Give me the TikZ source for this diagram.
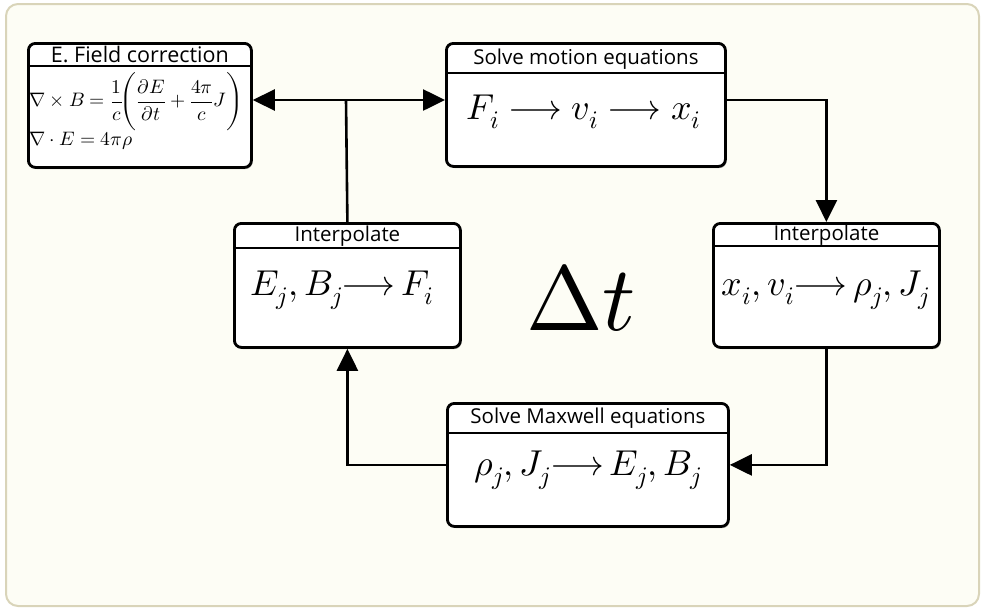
\documentclass[tikz,border=0pt]{standalone}
\usepackage{fontspec}
\usepackage{unicode-math}
\newfontfamily\titlefont{Open Sans}
\usetikzlibrary{arrows.meta,calc,shadows}
\definecolor{bgfill}{HTML}{FDFDF5}
\definecolor{bgline}{HTML}{D9D4B9}
\begin{document}
\begin{tikzpicture}[x=1pt,y=-1pt,
  panel/.style={draw=black,line width=2.8pt,rounded corners=7pt,fill=white,anchor=north west,inner sep=0pt,
    drop shadow={shadow xshift=1.2pt,shadow yshift=-1.6pt,opacity=0.35,fill=black}},
  hdr/.style={line width=1.8pt},
  ttl/.style={font=\titlefont\fontsize{20.5}{22}\selectfont,inner sep=0pt},
  big/.style={font=\fontsize{36}{40}\selectfont,inner sep=0pt},
  eq/.style={font=\fontsize{19.5}{22}\selectfont,inner sep=0pt,anchor=west},
  conn/.style={line width=2.6pt},
  tipend/.style={-{Triangle[length=22pt,width=21pt]}},
  tipboth/.style={{Triangle[length=22pt,width=21pt]}-{Triangle[length=22pt,width=21pt]}}
]
\path[use as bounding box] (0,0) rectangle (984,611);
\draw[fill=bgfill,draw=bgline,line width=2pt,rounded corners=12pt] (6,4) rectangle (979,606);

% boxes
\node[panel,minimum width=223pt,minimum height=124pt] (efc) at (27,42) {};
\node[panel,minimum width=279pt,minimum height=123pt] (mot) at (445,42) {};
\node[panel,minimum width=226pt,minimum height=124pt] (il) at (233,222) {};
\node[panel,minimum width=226pt,minimum height=124pt] (ir) at (712,222) {};
\node[panel,minimum width=281pt,minimum height=123pt] (mx) at (446,402) {};

% header lines
\draw[hdr] ($(efc.north west)+(0,24)$) -- ($(efc.north east)+(0,24)$);
\draw[hdr] ($(mot.north west)+(0,31)$) -- ($(mot.north east)+(0,31)$);
\draw[hdr] ($(il.north west)+(0,26)$) -- ($(il.north east)+(0,26)$);
\draw[hdr] ($(ir.north west)+(0,24)$) -- ($(ir.north east)+(0,24)$);
\draw[hdr] ($(mx.north west)+(0,31)$) -- ($(mx.north east)+(0,31)$);

% titles
\node[ttl,font=\titlefont\fontsize{21.5}{23}\selectfont] (efct) at ($(efc.north)+(0,12)$) {E. Field correction};
\node[ttl] (mott) at ($(mot.north)+(0,17)$) {Solve motion equations};
\node[ttl] (ilt) at ($(il.north)+(0,14)$) {Interpolate};
\node[ttl] (irt) at ($(ir.north)+(0,13)$) {Interpolate};
\node[ttl] (mxt) at ($(mx.north)+(0,16)$) {Solve Maxwell equations};

% contents
\node[eq] (eq1) at (29,102) {$\nabla\times B=\dfrac{1}{c}\!\Biggl(\dfrac{\partial E}{\partial t}+\dfrac{4\pi}{c}J\Biggr)$};
\node[eq] (eq2) at (29,141) {$\nabla\cdot E=4\pi\rho$};
\node[big] (motc) at (584,112) {$F_i\longrightarrow v_i\longrightarrow x_i$};
\node[big] (ilc) at (342,290) {$E_j,B_j{\longrightarrow}\,F_i$};
\node[big] (irc) at (826,290) {$x_i,v_i{\longrightarrow}\,\rho_j,J_j$};
\node[big] (mxc) at (588,470) {$\rho_j,J_j{\longrightarrow}\,E_j,B_j$};
\node[font=\fontsize{92}{96}\selectfont,inner sep=0pt] (dt) at (581,298) {$\Delta t$};

% connectors
\coordinate (jL) at (346,100);
\draw[conn,tipboth] (efc.east |- jL) -- (mot.west |- jL);
\draw[conn] (il.north) -- (jL);
\draw[conn,tipend] (mot.east |- jL) -| (ir.north);
\draw[conn,tipend] (ir.south) |- (mx.east);
\draw[conn,tipend] (mx.west) -| (il.south);
\end{tikzpicture}
\end{document}
